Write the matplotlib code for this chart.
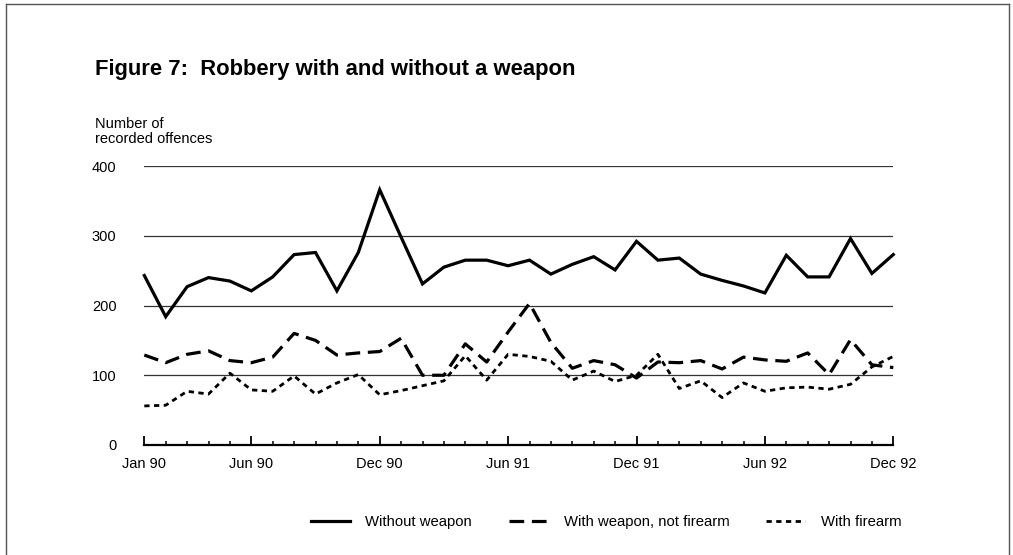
import numpy as np
import matplotlib
matplotlib.use("Agg")
import matplotlib.pyplot as plt
from matplotlib import font_manager
from matplotlib.lines import Line2D
from matplotlib.ticker import FixedLocator, MultipleLocator

# ---------------- data ----------------
month_labels = ["Jan 90", "Jun 90", "Dec 90", "Jun 91", "Dec 91", "Jun 92", "Dec 92"]
label_months = [0, 5, 11, 17, 23, 29, 35]
y_ticks = [0, 100, 200, 300, 400]

without_weapon = [243, 184, 227, 240, 235, 221, 241, 273, 276, 221, 276, 366,
                  298, 231, 255, 265, 265, 257, 265, 245, 259, 270, 251, 292,
                  265, 268, 245, 236, 228, 218, 272, 241, 241, 296, 246, 273]
with_weapon = [129, 118, 130, 135, 121, 118, 126, 160, 150, 129, 132, 134,
               153, 100, 100, 145, 119, 162, 203, 147, 110, 121, 115, 96,
               119, 118, 121, 109, 126, 122, 120, 132, 101, 151, 115, 111]
with_firearm = [56, 57, 77, 73, 103, 79, 77, 99, 73, 89, 101, 72,
                78, 85, 92, 128, 93, 130, 127, 120, 93, 106, 91, 100,
                130, 81, 92, 68, 89, 77, 82, 83, 80, 87, 112, 127]
series_names = ["Without weapon", "With weapon, not firearm", "With firearm"]

months = np.arange(len(without_weapon))

# ---------------- fonts ----------------
def has_font(name):
    try:
        font_manager.findfont(name, fallback_to_default=False)
        return True
    except Exception:
        return False

narrow = "Liberation Sans Narrow" if has_font("Liberation Sans Narrow") else "Liberation Sans"
small_size = 12.5 if narrow == "Liberation Sans Narrow" else 10.5
legend_size = small_size * 1.02

W, H, DPI = 1013, 555, 100
fig = plt.figure(figsize=(W / DPI, H / DPI), dpi=DPI)
fig.patch.set_facecolor("white")

ax = fig.add_axes([144.3 / W, 1 - 445 / H, (893.3 - 144.3) / W, (445 - 166) / H])
ax.set_xlim(0, 35)
ax.set_ylim(0, 400)

# gridlines
for yv in y_ticks[1:]:
    ax.axhline(yv, color="#333333", lw=0.9, zorder=1)

lw_main = 2.3
ax.plot(months, without_weapon, color="black", lw=lw_main, solid_joinstyle="miter",
        zorder=3, clip_on=False, label=series_names[0])
ax.plot(months, with_weapon, color="black", lw=lw_main, dashes=(4.6, 2.4),
        zorder=3, clip_on=False, label=series_names[1])
ax.plot(months, with_firearm, color="black", lw=2.0, dashes=(1.9, 1.6),
        zorder=3, clip_on=False, label=series_names[2])

# axes styling
for s in ["left", "right", "top"]:
    ax.spines[s].set_visible(False)
ax.spines["bottom"].set_linewidth(1.6)
ax.spines["bottom"].set_color("black")

ax.xaxis.set_major_locator(FixedLocator(label_months))
ax.set_xticklabels(month_labels)
ax.xaxis.set_minor_locator(MultipleLocator(1))
ax.tick_params(axis="x", which="major", direction="in", length=6.5, width=1.3,
               pad=9, labelsize=small_size, colors="black")
ax.tick_params(axis="x", which="minor", direction="in", length=3.2, width=1.1)
ax.set_yticks(y_ticks)
ax.tick_params(axis="y", length=0, pad=20, labelsize=small_size)
for lab in ax.get_xticklabels() + ax.get_yticklabels():
    lab.set_fontfamily(narrow)

# titles
fig.text(95 / W, 1 - 70 / H, "Figure 7:  Robbery with and without a weapon",
         fontsize=15.8, fontweight="bold", family="Liberation Sans", va="center", ha="left")
fig.text(95 / W, 1 - 124 / H, "Number of", fontsize=small_size, family=narrow,
         va="center", ha="left")
fig.text(95 / W, 1 - 139 / H, "recorded offences", fontsize=small_size, family=narrow,
         va="center", ha="left")

# legend
handles, labels = ax.get_legend_handles_labels()
leg = fig.legend(handles, labels, loc="center left", bbox_to_anchor=(311 / W, 1 - 522 / H),
                 ncol=3, frameon=False, borderpad=0, borderaxespad=0,
                 handlelength=2.6, handletextpad=1.05, columnspacing=2.5,
                 prop={"family": narrow, "size": legend_size})

# page frame
frame_kw = dict(transform=fig.transFigure, color="#555555", lw=1.0)
fig.add_artist(Line2D([6 / W, 6 / W], [0, 1 - 4 / H], **frame_kw))
fig.add_artist(Line2D([6 / W, 1009 / W], [1 - 4 / H, 1 - 4 / H], **frame_kw))
fig.add_artist(Line2D([1009 / W, 1009 / W], [0, 1 - 4 / H], **frame_kw))

fig.savefig("out.png", dpi=DPI)
